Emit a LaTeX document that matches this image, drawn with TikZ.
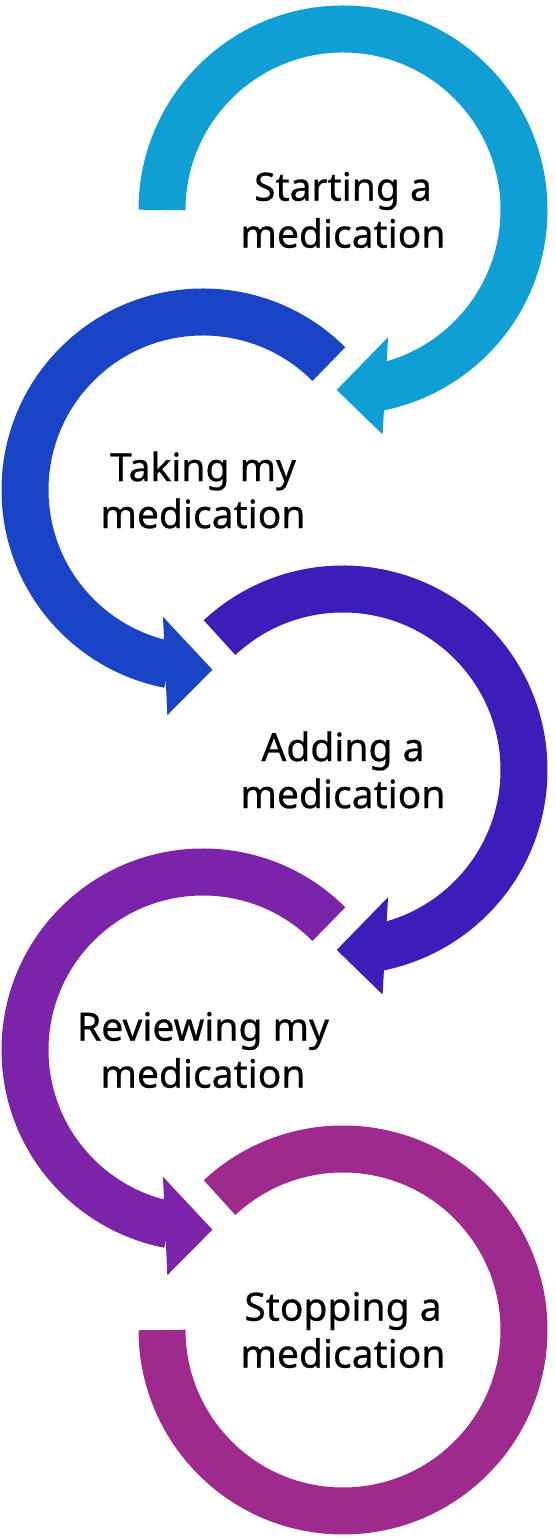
\documentclass[tikz,border=0pt]{standalone}
\usepackage{fontspec}
\newfontfamily\stepfont[FakeBold=0.6]{Noto Sans}
\usepackage{tikz}
\usetikzlibrary{positioning}
\definecolor{mOne}{RGB}{16,159,213}
\definecolor{mTwo}{RGB}{26,68,198}
\definecolor{mThree}{RGB}{61,29,185}
\definecolor{mFour}{RGB}{123,36,170}
\definecolor{mFive}{RGB}{159,42,141}
\tikzset{
  steptext/.style={align=center, inner sep=0pt, text=black, font=\stepfont\fontsize{39}{47}\selectfont},
  band/.style={line width=47pt}
}
\begin{document}
\begin{tikzpicture}[x=1pt, y=1pt, node distance=280pt and 140pt, on grid]
  \useasboundingbox (0,0) rectangle (555,1540);
  \node[steptext] (starting) at (343,1330) {Starting a\\medication};
  \node[steptext, below left=of starting] (taking) {Taking my\\medication};
  \node[steptext, below right=of taking] (adding) {Adding a\\medication};
  \node[steptext, below left=of adding] (reviewing) {Reviewing my\\medication};
  \node[steptext, below right=of reviewing] (stopping) {Stopping a\\medication};
  \draw[band, mOne] ([shift={(180:181)}]starting.center) arc[start angle=180, end angle=-79, radius=181];
  \fill[mOne] ([shift={(-70.5:135)}]starting.center) -- ([shift={(-80:228)}]starting.center) -- ([shift={(-92:180)}]starting.center) -- cycle;
  \draw[band, mTwo] ([shift={(45:178)}]taking.center) arc[start angle=45, end angle=259, radius=178];
  \fill[mTwo] ([shift={(252.5:133)}]taking.center) -- ([shift={(261:228)}]taking.center) -- ([shift={(273:180)}]taking.center) -- cycle;
  \draw[band, mThree] ([shift={(133:181)}]adding.center) arc[start angle=133, end angle=-79, radius=181];
  \fill[mThree] ([shift={(-70.5:135)}]adding.center) -- ([shift={(-80:228)}]adding.center) -- ([shift={(-92:180)}]adding.center) -- cycle;
  \draw[band, mFour] ([shift={(45:178)}]reviewing.center) arc[start angle=45, end angle=259, radius=178];
  \fill[mFour] ([shift={(252.5:133)}]reviewing.center) -- ([shift={(261:228)}]reviewing.center) -- ([shift={(273:180)}]reviewing.center) -- cycle;
  \draw[band, mFive] ([shift={(133:181)}]stopping.center) arc[start angle=133, end angle=-180, radius=181];
\end{tikzpicture}
\end{document}
